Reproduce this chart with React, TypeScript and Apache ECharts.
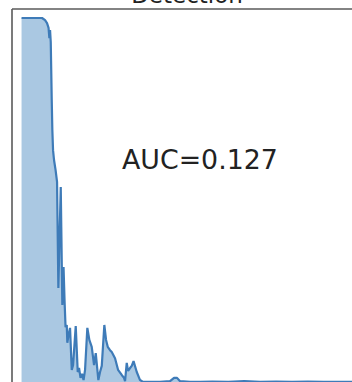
import React, { useEffect, useRef } from "react";
import * as echarts from "echarts";

const xs: number[] = [
  0, 6.44, 7.39, 8.01, 8.49, 8.74, 8.96, 9.18, 9.33, 9.49, 9.68, 9.9, 10.21, 10.69, 11.16,
  11.57, 12.32, 12.82, 13.2, 13.51, 13.83, 14.21, 14.39, 14.77, 15.24, 15.78, 16.19, 17.03,
  17.29, 17.66, 18.07, 18.54, 19.01, 19.49, 19.96, 20.68, 21.31, 22.06, 22.79, 23.32, 24.14,
  24.67, 25.21, 26.02, 26.56, 27.09, 27.81, 28.35, 29.38, 30.33, 31.49, 32.21, 32.53, 33.06,
  33.47, 34.1, 34.63, 35.2, 36.21, 37.24, 38.19, 40.39, 43.53, 46.67, 47.93, 48.87, 49.82,
  52.96, 56.1, 60, 65, 70, 75, 80, 85, 90, 95, 100, 104,
];
const density: number[] = [
  1.0, 1.0, 0.994, 0.986, 0.973, 0.945, 0.967, 0.934, 0.858, 0.775, 0.693, 0.638, 0.611, 0.584,
  0.551, 0.26, 0.537, 0.214, 0.318, 0.227, 0.153, 0.159, 0.11, 0.132, 0.151, 0.036, 0.049,
  0.156, 0.104, 0.03, 0.041, 0.014, 0.025, 0.008, 0.036, 0.151, 0.118, 0.099, 0.049, 0.082,
  0.008, 0.03, 0.047, 0.159, 0.118, 0.099, 0.09, 0.085, 0.068, 0.036, 0.022, 0.014, 0.005,
  0.055, 0.033, 0.041, 0.047, 0.06, 0.03, 0.008, 0.003, 0.003, 0.003, 0.005, 0.014, 0.014,
  0.005, 0.003, 0.003, 0.004, 0.003, 0.005, 0.003, 0.004, 0.003, 0.004, 0.003, 0.003, 0.003,
];
const titleText = "Detection";
const aucText = "AUC=0.127";

export default function App() {
  const ref = useRef<HTMLDivElement>(null);
  useEffect(() => {
    if (!ref.current) return;
    const chart = echarts.init(ref.current, null, { renderer: "svg" });
    chart.setOption({
      animation: false,
      grid: { left: 12, top: 9, width: 350, height: 383 },
      xAxis: {
        type: "value",
        min: -3,
        max: 107,
        axisLine: { show: false },
        axisTick: { show: false },
        axisLabel: { show: false },
        splitLine: { show: false },
      },
      yAxis: {
        type: "value",
        min: -0.0247,
        max: 1.0247,
        axisLine: { show: false },
        axisTick: { show: false },
        axisLabel: { show: false },
        splitLine: { show: false },
      },
      series: [
        {
          type: "line",
          data: xs.map((x, i) => [x, density[i]]),
          showSymbol: false,
          lineStyle: { color: "#3e7bb8", width: 2.2 },
          areaStyle: { color: "#aac8e2", opacity: 1, origin: "start" },
          z: 2,
        },
      ],
      graphic: [
        {
          type: "line",
          shape: { x1: 12, y1: 9, x2: 362, y2: 9 },
          style: { stroke: "#5a5a5a", lineWidth: 1.6 },
          z: 10,
        },
        {
          type: "line",
          shape: { x1: 12, y1: 9, x2: 12, y2: 392 },
          style: { stroke: "#5a5a5a", lineWidth: 1.6 },
          z: 10,
        },
        {
          type: "text",
          x: 187,
          y: 6,
          style: {
            text: titleText,
            fontSize: 23,
            fontFamily: "DejaVu Sans",
            fill: "#222",
            align: "center",
            verticalAlign: "bottom",
          },
        },
        {
          type: "text",
          x: 122,
          y: 159,
          style: {
            text: aucText,
            fontSize: 26.8,
            fontFamily: "DejaVu Sans",
            fill: "#222",
            align: "left",
            verticalAlign: "middle",
          },
        },
      ],
    });
    return () => chart.dispose();
  }, []);
  return (
    <div
      ref={ref}
      style={{ position: "fixed", left: 0, top: 0, width: 372, height: 400, background: "#fff" }}
    />
  );
}
